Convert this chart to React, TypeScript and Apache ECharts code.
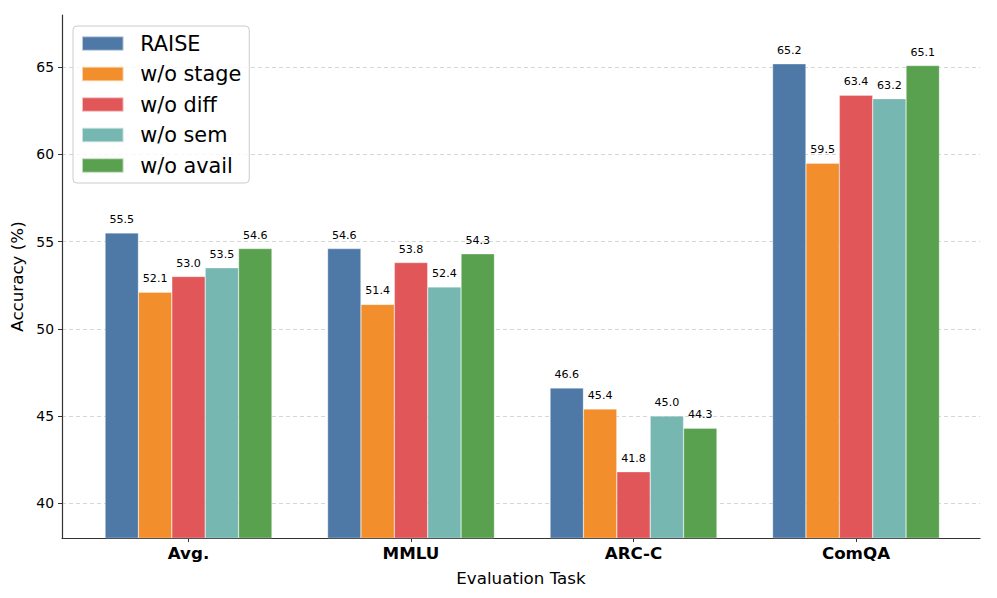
import React, { useEffect, useRef } from "react";
import * as echarts from "echarts";

const categories = ["Avg.", "MMLU", "ARC-C", "ComQA"];
const seriesNames = ["RAISE", "w/o stage", "w/o diff", "w/o sem", "w/o avail"];
const raiseValues = [55.5, 54.6, 46.6, 65.2];
const woStageValues = [52.1, 51.4, 45.4, 59.5];
const woDiffValues = [53.0, 53.8, 41.8, 63.4];
const woSemValues = [53.5, 52.4, 45.0, 63.2];
const woAvailValues = [54.6, 54.3, 44.3, 65.1];
const yTicks = [40, 45, 50, 55, 60, 65];
const colors = ["#4e79a7", "#f28e2b", "#e15759", "#76b7b2", "#59a14f"];

const FONT = "DejaVu Sans";

export default function App() {
  const ref = useRef<HTMLDivElement>(null);
  useEffect(() => {
    document.body.style.margin = "0";
    const chart = echarts.init(ref.current!, null, { renderer: "svg" });
    const allValues = [raiseValues, woStageValues, woDiffValues, woSemValues, woAvailValues];
    const yMin = 38;
    const yMax = 68;
    const axisColor = "#333333";
    chart.setOption({
      animation: false,
      backgroundColor: "#ffffff",
      textStyle: { fontFamily: FONT },
      grid: [
        { left: 62, right: 17, top: 15, bottom: 60, containLabel: false },
        { left: 77.25, right: 29.75, top: 15, bottom: 60, containLabel: false },
      ],
      legend: {
        data: seriesNames,
        orient: "vertical",
        left: 73,
        top: 26,
        icon: "rect",
        itemWidth: 41.6,
        itemHeight: 14.5,
        itemGap: 9.5,
        padding: [7, 8, 7, 8],
        borderColor: "#cccccc",
        borderWidth: 1,
        borderRadius: 4,
        backgroundColor: "rgba(255,255,255,0.8)",
        textStyle: {
          fontFamily: FONT,
          fontSize: 20.8,
          lineHeight: 21,
          color: "#000",
          padding: [0, 0, 0, 11.6],
        },
        z: 20,
      },
      xAxis: [
        {
          type: "value",
          gridIndex: 0,
          min: 0,
          max: 1,
          name: "Evaluation Task",
          nameLocation: "middle",
          nameGap: 31,
          nameTextStyle: { fontFamily: FONT, fontSize: 16.7, color: "#000" },
          axisLine: { show: true, lineStyle: { color: axisColor, width: 1.2 } },
          axisTick: { show: false },
          axisLabel: { show: false },
          splitLine: { show: false },
        },
        {
          type: "category",
          gridIndex: 1,
          data: categories,
          axisLine: { show: false },
          axisTick: {
            show: true,
            alignWithLabel: true,
            length: 4,
            lineStyle: { color: axisColor, width: 1 },
          },
          axisLabel: {
            margin: 6,
            fontFamily: FONT,
            fontSize: 16.7,
            fontWeight: "bold",
            color: "#000",
          },
          splitLine: { show: false },
        },
      ],
      yAxis: [
        {
          type: "value",
          gridIndex: 0,
          min: yMin,
          max: yMax,
          name: "Accuracy (%)",
          nameLocation: "middle",
          nameGap: 32,
          nameRotate: 90,
          nameTextStyle: { fontFamily: FONT, fontSize: 16.7, color: "#000" },
          axisLine: { show: true, lineStyle: { color: axisColor, width: 1.2 } },
          axisTick: {
            show: true,
            length: 4,
            customValues: yTicks,
            lineStyle: { color: axisColor, width: 1 },
          },
          axisLabel: {
            margin: 8,
            customValues: yTicks,
            fontFamily: FONT,
            fontSize: 13.9,
            color: "#000",
          },
          splitLine: {
            show: true,
            customValues: yTicks,
            lineStyle: { color: "#cccccc", type: [4, 3], width: 0.8 },
          },
        },
        {
          type: "value",
          gridIndex: 1,
          min: yMin,
          max: yMax,
          show: false,
          splitLine: { show: false },
        },
      ],
      series: seriesNames.map((name, i) => ({
        name,
        type: "bar",
        xAxisIndex: 1,
        yAxisIndex: 1,
        data: allValues[i],
        barWidth: "15%",
        barGap: "0%",
        itemStyle: {
          color: colors[i],
          borderColor: "rgba(255,255,255,0.6)",
          borderWidth: 0.5,
        },
        label: {
          show: true,
          position: "top",
          distance: 8,
          fontFamily: FONT,
          fontSize: 11.1,
          color: "#000",
          formatter: (p: any) => Number(p.value).toFixed(1),
        },
        z: 5,
      })),
    });
    return () => chart.dispose();
  }, []);
  return <div ref={ref} style={{ width: 997, height: 598 }} />;
}
